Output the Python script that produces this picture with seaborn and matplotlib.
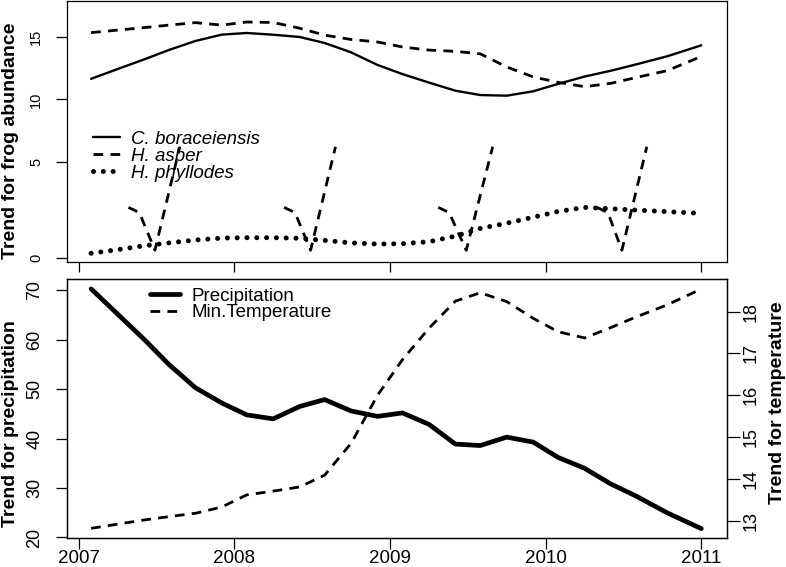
import numpy as np
import pandas as pd
import matplotlib
matplotlib.use("Agg")
import matplotlib.pyplot as plt
import seaborn as sns

# Time axis (decimal years), shared by all series
years = [2007.08, 2007.25, 2007.42, 2007.58, 2007.75, 2007.92, 2008.08, 2008.25,
         2008.42, 2008.58, 2008.75, 2008.92, 2009.08, 2009.25, 2009.42, 2009.58,
         2009.75, 2009.92, 2010.08, 2010.25, 2010.42, 2010.58, 2010.78, 2011.0]

# Frog abundance trends
c_boraceiensis = [11.65, 12.43, 13.2, 13.96, 14.68, 15.19, 15.32, 15.18, 15.0, 14.52,
                  13.77, 12.76, 12.03, 11.35, 10.7, 10.35, 10.3, 10.65, 11.24, 11.83,
                  12.3, 12.8, 13.45, 14.33]
h_asber = [15.35, 15.55, 15.75, 15.95, 16.15, 15.95, 16.2, 16.16, 15.7, 15.15,
           14.8, 14.6, 14.2, 13.95, 13.85, 13.65, 12.6, 11.8, 11.37, 11.02,
           11.29, 11.75, 12.3, 13.44]
h_phyllodes = [0.26, 0.45, 0.65, 0.8, 0.95, 1.05, 1.07, 1.07, 1.04, 0.93,
               0.8, 0.74, 0.76, 0.86, 1.15, 1.55, 1.82, 2.13, 2.43, 2.64,
               2.57, 2.5, 2.42, 2.33]

# H. asber pieces drawn across the axis break
asber_break_x = [[2007.32, 2007.39, 2007.49, 2007.65],
                 [2008.32, 2008.39, 2008.49, 2008.65],
                 [2009.31, 2009.38, 2009.49, 2009.66],
                 [2010.33, 2010.40, 2010.49, 2010.65]]
asber_break_y = [[2.64, 2.37, 0.42, 6.21]] * 4

# Climate trends
precipitation = [70.3, 65.2, 60.1, 55.0, 50.3, 47.2, 44.8, 44.0, 46.5, 47.9,
                 45.6, 44.5, 45.2, 42.9, 38.9, 38.6, 40.3, 39.3, 36.2, 34.0,
                 30.8, 28.4, 25.0, 21.8]
min_temperature = [12.82, 12.92, 13.02, 13.1, 13.18, 13.33, 13.62, 13.71, 13.81, 14.09,
                   14.85, 16.0, 16.85, 17.6, 18.25, 18.45, 18.24, 17.84, 17.52, 17.37,
                   17.62, 17.87, 18.16, 18.54]

year_ticks = [2007, 2008, 2009, 2010, 2011]

df = pd.DataFrame({"year": years, "cb": c_boraceiensis, "ha": h_asber,
                   "hp": h_phyllodes, "prec": precipitation, "temp": min_temperature})

sns.set_style("ticks")
plt.rcParams["font.family"] = ["Liberation Sans", "DejaVu Sans"]
plt.rcParams["axes.linewidth"] = 0.9
for k in ("text.color", "axes.labelcolor", "xtick.color", "ytick.color", "axes.edgecolor"):
    plt.rcParams[k] = "black"

fig = plt.figure(figsize=(7.86, 5.67), dpi=100)
ax1 = fig.add_axes([0.0852, 0.5379, 0.8397, 0.4603])
ax2 = fig.add_axes([0.0852, 0.0512, 0.8397, 0.4568])

# broken-looking y axis: lower part stretched relative to upper part
r = 1.5456
def fwd(v):
    return np.interp(v, [-50, 0, 5, 100], [-50 * r, 0, 5 * r, 5 * r + 95])
def inv(u):
    return np.interp(u, [-50 * r, 0, 5 * r, 5 * r + 95], [-50, 0, 5, 100])

dash = (0, (3.5, 2.6))
sns.lineplot(data=df, x="year", y="cb", ax=ax1, color="black", lw=1.7,
             label="C. boraceiensis")
sns.lineplot(data=df, x="year", y="ha", ax=ax1, color="black", lw=2.0,
             linestyle=dash, label="H. asber")
sns.lineplot(data=df, x="year", y="hp", ax=ax1, color="black", lw=3.6,
             linestyle=(0, (0.01, 1.95)), dash_capstyle="round", label="H. phyllodes")
for bx, by in zip(asber_break_x, asber_break_y):
    sns.lineplot(x=bx, y=by, ax=ax1, color="black", lw=2.0, linestyle=dash,
                 sort=False, estimator=None)

ax1.set_yscale("function", functions=(fwd, inv))
ax1.set_ylim(-0.19, 17.88)
ax1.set_yticks([0, 5, 10, 15])
ax1.yaxis.set_minor_locator(matplotlib.ticker.NullLocator())
ax1.set_xlim(2006.925, 2011.165)
ax1.set_xticks(year_ticks)
ax1.set_xticklabels([])
ax1.set_xlabel("")
ax1.set_ylabel("Trend for frog abundance", fontsize=14, fontweight="bold", va="center")
ax1.yaxis.set_label_coords(-0.0855, 0.466)
ax1.tick_params(axis="y", length=8, width=0.9, pad=9, labelsize=10.5)
ax1.tick_params(axis="x", length=7, width=0.9)
for lbl in ax1.get_yticklabels():
    lbl.set_rotation(90)
    lbl.set_va("center")
leg1 = ax1.legend(loc="upper left", bbox_to_anchor=(0.039, 0.503), frameon=False,
                  prop={"style": "italic", "size": 13.5},
                  handlelength=1.45, handletextpad=0.6, labelspacing=-0.01,
                  borderpad=0, borderaxespad=0)

# Bottom panel: precipitation and min temperature
sns.lineplot(data=df, x="year", y="prec", ax=ax2, color="black", lw=3.4,
             label="Precipitation", legend=False)
ax3 = ax2.twinx()
sns.lineplot(data=df, x="year", y="temp", ax=ax3, color="black", lw=2.0,
             linestyle=dash, label="Min.Temperature", legend=False)
ax3.set_position(ax2.get_position())

ax2.set_xlim(2006.925, 2011.165)
ax2.set_ylim(19.9, 72.3)
ax3.set_ylim(12.59, 18.78)
ax2.set_xticks(year_ticks)
ax2.set_xticklabels([str(y) for y in year_ticks])
ax2.set_yticks([20, 30, 40, 50, 60, 70])
ax3.set_yticks([13, 14, 15, 16, 17, 18])
ax2.set_xlabel("")
ax2.set_ylabel("Trend for precipitation", fontsize=14, fontweight="bold", va="center")
ax2.yaxis.set_label_coords(-0.0857, 0.442)
ax3.set_ylabel("Trend for temperature", fontsize=14, fontweight="bold", va="center",
               rotation=90)
ax3.yaxis.set_label_coords(1.0766, 0.523)
ax2.tick_params(axis="x", length=8, width=0.9, pad=1, labelsize=13.5)
ax2.tick_params(axis="y", length=8, width=0.9, pad=9, labelsize=13)
ax3.tick_params(axis="y", length=9, width=0.9, pad=2, labelsize=13)
for lbl in ax2.get_yticklabels():
    lbl.set_rotation(90)
    lbl.set_va("center")
for lbl in ax3.get_yticklabels():
    lbl.set_rotation(90)
    lbl.set_va("center")

h2 = ax2.get_lines()[:1] + ax3.get_lines()[:1]
ax2.legend(h2, ["Precipitation", "Min.Temperature"], loc="upper left",
           bbox_to_anchor=(0.126, 0.966), frameon=False, fontsize=13.5,
           handlelength=1.6, handletextpad=0.6, labelspacing=-0.03,
           borderpad=0, borderaxespad=0)

for a in (ax1, ax2, ax3):
    for s in a.spines.values():
        s.set_visible(True)
        s.set_linewidth(0.9)
        s.set_color("black")

fig.savefig("out.png", dpi=100)
